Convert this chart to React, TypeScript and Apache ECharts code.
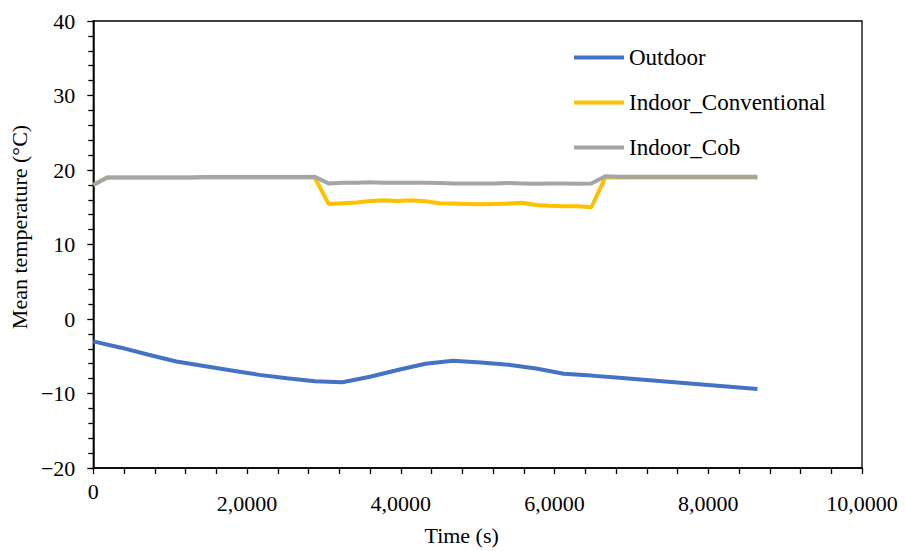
import React, { useEffect, useRef } from "react";
import * as echarts from "echarts";

const seriesNames = ["Outdoor", "Indoor_Conventional", "Indoor_Cob"];
const seriesColors = ["#4472C4", "#FFC000", "#A5A5A5"];

const outdoorTimes = [
  0, 3600, 7200, 10800, 14400, 18000, 21600, 25200, 28800, 32400, 36000, 39600,
  43200, 46800, 50400, 54000, 57600, 61200, 64800, 68400, 72000, 75600, 79200,
  82800, 86400,
];
const outdoorValues = [
  -3.0, -3.85, -4.8, -5.7, -6.3, -6.9, -7.5, -7.95, -8.35, -8.5, -7.75, -6.85,
  -6.0, -5.6, -5.85, -6.15, -6.65, -7.35, -7.6, -7.9, -8.2, -8.5, -8.8, -9.1,
  -9.4,
];

const indoorTimes = [
  0, 1800, 3600, 5400, 7200, 9000, 10800, 12600, 14400, 16200, 18000, 19800,
  21600, 23400, 25200, 27000, 28800, 30600, 32400, 34200, 36000, 37800, 39600,
  41400, 43200, 45000, 46800, 48600, 50400, 52200, 54000, 55800, 57600, 59400,
  61200, 63000, 64800, 66600, 68400, 70200, 72000, 73800, 75600, 77400, 79200,
  81000, 82800, 84600, 86400,
];
const conventionalValues = [
  18.0, 19.0, 19.0, 19.0, 19.0, 19.0, 19.0, 19.0, 19.0, 19.0, 19.0, 19.0, 19.0,
  19.0, 19.0, 19.0, 19.0, 15.45, 15.55, 15.65, 15.85, 15.95, 15.85, 15.95, 15.8,
  15.55, 15.5, 15.45, 15.4, 15.45, 15.5, 15.6, 15.3, 15.2, 15.15, 15.15, 15.0,
  19.0, 19.0, 19.0, 19.0, 19.0, 19.0, 19.0, 19.0, 19.0, 19.0, 19.0, 19.0,
];
const cobValues = [
  18.0, 19.0, 19.0, 19.0, 19.0, 19.0, 19.0, 19.0, 19.05, 19.05, 19.05, 19.05,
  19.05, 19.05, 19.05, 19.05, 19.1, 18.2, 18.3, 18.3, 18.35, 18.3, 18.3, 18.3,
  18.3, 18.25, 18.2, 18.2, 18.2, 18.2, 18.25, 18.2, 18.15, 18.2, 18.2, 18.15,
  18.2, 19.15, 19.1, 19.1, 19.1, 19.1, 19.1, 19.1, 19.1, 19.1, 19.1, 19.1, 19.1,
];

const xTickLabels = ["0", "2,0000", "4,0000", "6,0000", "8,0000", "10,0000"];
const xAxisTitle = "Time (s)";
const yAxisTitle = "Mean temperature (°C)";

const FONT = "'Liberation Serif', 'Times New Roman', serif";

const pairs = (ts: number[], vs: number[]) => ts.map((t, i) => [t, vs[i]]);

export default function App() {
  const ref = useRef<HTMLDivElement>(null);
  useEffect(() => {
    if (!ref.current) return;
    const chart = echarts.init(ref.current, null, { renderer: "svg" });
    const lineSeries = (idx: number, data: number[][]) => ({
      name: seriesNames[idx],
      type: "line",
      data,
      symbol: "none",
      smooth: false,
      lineStyle: { color: seriesColors[idx], width: 4 },
      itemStyle: { color: seriesColors[idx] },
    });
    chart.setOption({
      animation: false,
      backgroundColor: "#ffffff",
      textStyle: { fontFamily: FONT },
      grid: {
        left: 91,
        right: 43,
        top: 21,
        bottom: 82,
        show: true,
        borderColor: "#000",
        borderWidth: 1.3,
      },
      legend: {
        orient: "vertical",
        left: 569,
        top: 41,
        itemGap: 22,
        icon: "rect",
        itemWidth: 50,
        itemHeight: 4,
        textStyle: {
          fontFamily: FONT,
          fontSize: 23,
          color: "#000",
          lineHeight: 22,
        },
        data: seriesNames,
      },
      xAxis: {
        type: "value",
        min: 0,
        max: 100000,
        interval: 20000,
        name: xAxisTitle,
        nameLocation: "middle",
        nameGap: 56,
        nameTextStyle: {
          fontFamily: FONT,
          fontSize: 22,
          color: "#000",
          padding: [0, 32, 0, 0],
        },
        axisLine: { show: true, onZero: false, lineStyle: { color: "#000", width: 1.5 } },
        axisTick: { show: true, length: 6, lineStyle: { color: "#000", width: 1.3 } },
        minorTick: { show: true, splitNumber: 5, length: 6, lineStyle: { color: "#000", width: 1.3 } },
        splitLine: { show: false },
        axisLabel: {
          margin: 12,
          color: "#000",
          formatter: (_v: number, idx: number) =>
            idx === 0 ? `{z|${xTickLabels[0]}}` : `{n|${xTickLabels[idx]}}`,
          rich: {
            z: { fontFamily: FONT, fontSize: 22, color: "#000" },
            n: { fontFamily: FONT, fontSize: 22, color: "#000", padding: [12, 0, 0, 0] },
          },
        },
      },
      yAxis: {
        type: "value",
        min: -20,
        max: 40,
        interval: 10,
        name: yAxisTitle,
        nameLocation: "middle",
        nameGap: 56,
        nameTextStyle: {
          fontFamily: FONT,
          fontSize: 22,
          color: "#000",
          padding: [0, 0, 0, 35],
        },
        axisLine: { show: true, lineStyle: { color: "#000", width: 1.5 } },
        axisTick: { show: true, length: 6, lineStyle: { color: "#000", width: 1.3 } },
        minorTick: { show: true, splitNumber: 5, length: 5, lineStyle: { color: "#000", width: 1.3 } },
        splitLine: { show: false },
        axisLabel: {
          margin: 18,
          fontFamily: FONT,
          fontSize: 22,
          color: "#000",
          formatter: (v: number) => (v < 0 ? "\u2212" + Math.abs(v) : String(v)),
        },
      },
      series: [
        lineSeries(0, pairs(outdoorTimes, outdoorValues)),
        lineSeries(1, pairs(indoorTimes, conventionalValues)),
        lineSeries(2, pairs(indoorTimes, cobValues)),
      ],
    });
    return () => chart.dispose();
  }, []);
  return <div ref={ref} style={{ width: 905, height: 551, position: "absolute", left: 0, top: 0 }} />;
}
